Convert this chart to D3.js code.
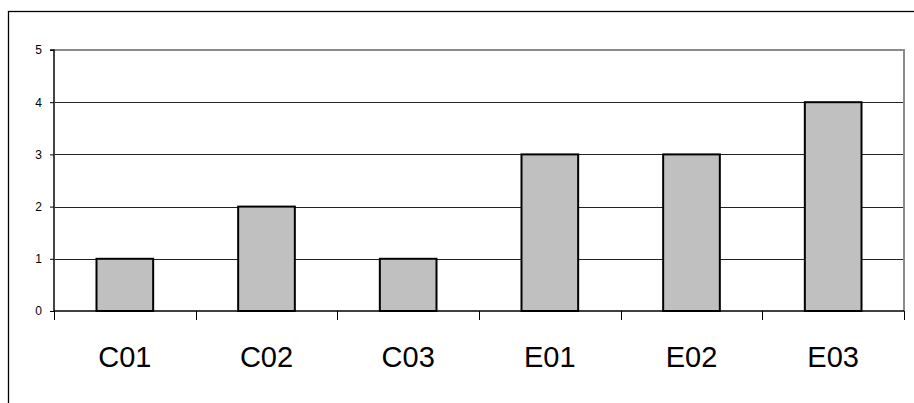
<!DOCTYPE html>
<html>
<head>
<meta charset="utf-8">
<script src="https://cdn.jsdelivr.net/npm/d3@7"></script>
<style>
  html, body { margin: 0; padding: 0; background: #fff; }
  svg { display: block; font-family: "Liberation Sans", Arial, sans-serif; }
</style>
</head>
<body>
<svg id="chart" width="914" height="403"></svg>
<script>
// Scores per item
const categories = ["C01", "C02", "C03", "E01", "E02", "E03"];
const values = [1, 2, 1, 3, 3, 4];
const yTicks = [0, 1, 2, 3, 4, 5];

const svg = d3.select("#chart");
const plot = { left: 54, right: 904, top: 50, bottom: 311 };

// Outer chart frame
svg.append("rect")
  .attr("x", 8.5).attr("y", 11.5)
  .attr("width", 920).attr("height", 420)
  .attr("fill", "none").attr("stroke", "#000").attr("stroke-width", 1.3);

const x = d3.scaleBand().domain(categories).range([plot.left, plot.right]).paddingInner(0.6).paddingOuter(0.3);
const xCat = d3.scaleBand().domain(categories).range([plot.left, plot.right]);
const y = d3.scaleLinear().domain([0, 5]).range([plot.bottom, plot.top]);

// Horizontal gridlines
svg.append("g").selectAll("line").data(yTicks.filter(t => t > 0 && t < 5)).join("line")
  .attr("x1", plot.left).attr("x2", plot.right)
  .attr("y1", d => Math.round(y(d)) + 0.5).attr("y2", d => Math.round(y(d)) + 0.5)
  .attr("stroke", "#222").attr("stroke-width", 1);

// Plot area border (top and right)
svg.append("path")
  .attr("d", `M${plot.left},${plot.top} H${plot.right} V${plot.bottom}`)
  .attr("fill", "none").attr("stroke", "#8a8a8a").attr("stroke-width", 2);

// Bars
svg.append("g").selectAll("rect").data(values).join("rect")
  .attr("x", (d, i) => x(categories[i]))
  .attr("y", d => y(d))
  .attr("width", x.bandwidth())
  .attr("height", d => y(0) - y(d))
  .attr("fill", "#c0c0c0")
  .attr("stroke", "#000").attr("stroke-width", 2);

// Y axis
const yAxis = d3.axisLeft(y).tickValues(yTicks).tickSize(4).tickPadding(8).tickFormat(d3.format("d"));
const gy = svg.append("g").attr("transform", `translate(${plot.left},0)`).call(yAxis);
gy.select(".domain").attr("stroke", "#444").attr("stroke-width", 2).attr("d", `M-4,${plot.top}H0V${plot.bottom}`);
gy.selectAll(".tick line").attr("stroke", "#000");
gy.selectAll(".tick text").attr("font-size", 12).attr("font-family", "Liberation Sans, Arial, sans-serif").attr("fill", "#000");

// X axis: ticks at category boundaries, labels centred under categories
const gx = svg.append("g");
gx.append("line").attr("x1", plot.left).attr("x2", plot.right)
  .attr("y1", plot.bottom).attr("y2", plot.bottom)
  .attr("stroke", "#000").attr("stroke-width", 1.5);
const bounds = categories.map(c => xCat(c)).concat([plot.right]);
gx.selectAll("line.tk").data(bounds).join("line").attr("class", "tk")
  .attr("x1", d => Math.round(d) + 0.5).attr("x2", d => Math.round(d) + 0.5)
  .attr("y1", plot.bottom).attr("y2", plot.bottom + 9)
  .attr("stroke", "#000").attr("stroke-width", 1);
gx.selectAll("text").data(categories).join("text")
  .attr("x", d => xCat(d) + xCat.bandwidth() / 2)
  .attr("y", 367)
  .attr("text-anchor", "middle")
  .attr("font-size", 29)
  .attr("fill", "#000")
  .text(d => d);
</script>
</body>
</html>
